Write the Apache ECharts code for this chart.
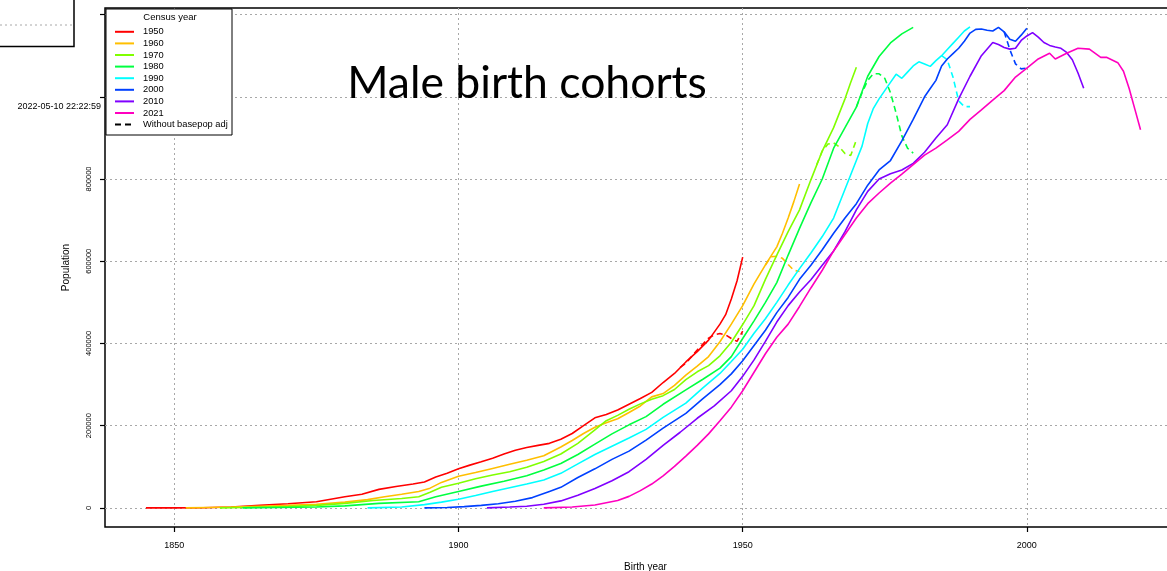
<!DOCTYPE html>
<html>
<head>
<meta charset="utf-8">
<title>Male birth cohorts</title>
<script src="https://cdn.jsdelivr.net/npm/echarts@6.0.0/dist/echarts.min.js"></script>
<style>
  html, body { margin: 0; padding: 0; background: #fff; }
  #chart { width: 1167px; height: 571px; }
</style>
</head>
<body>
<div id="chart"></div>
<script>
// census years shown in the legend
const censusYears = ['1950', '1960', '1970', '1980', '1990', '2000', '2010', '2021']

// [birth year, population] per census
const cohort1950 = [[1845,0],[1850,0],[1855,500],[1860,2000],[1865,6000],[1870,10000],[1875,15000],[1880,27000],[1883,33000],[1886,45000],[1889,52000],[1892,58000],[1894,63000],[1896,75000],[1898,84000],[1900,95000],[1902,104000],[1904,112000],[1906,121000],[1908,131000],[1910,140000],[1912,147000],[1914,152000],[1916,157000],[1918,167000],[1920,181000],[1922,200000],[1924,219000],[1926,227000],[1928,238000],[1930,252000],[1932,266000],[1934,281000],[1936,305000],[1938,327000],[1940,355000],[1942,380000],[1944,408000],[1946,447000],[1947,470000],[1948,508000],[1949,552000],[1950,610000]]
const cohort1960 = [[1852,0],[1856,1000],[1860,2000],[1865,4000],[1870,6000],[1875,9000],[1880,14000],[1884,20000],[1887,27000],[1890,33000],[1893,40000],[1895,48000],[1897,62000],[1900,77000],[1903,86000],[1906,96000],[1909,106000],[1912,116000],[1915,127000],[1918,148000],[1920,164000],[1922,181000],[1924,196000],[1926,207000],[1928,217000],[1930,232000],[1932,248000],[1934,270000],[1936,278000],[1938,298000],[1940,323000],[1942,345000],[1944,368000],[1946,404000],[1948,447000],[1950,492000],[1952,545000],[1954,591000],[1956,635000],[1957,668000],[1958,705000],[1959,745000],[1960,788000]]
const cohort1970 = [[1858,0],[1862,1000],[1866,2000],[1870,3000],[1875,6000],[1880,11000],[1885,18000],[1890,23000],[1893,27000],[1895,38000],[1897,50000],[1900,60000],[1903,71000],[1906,80000],[1909,88000],[1912,99000],[1915,113000],[1918,131000],[1921,157000],[1924,190000],[1926,212000],[1928,225000],[1930,240000],[1932,253000],[1934,264000],[1936,273000],[1938,288000],[1940,312000],[1942,331000],[1944,346000],[1946,370000],[1948,403000],[1950,446000],[1952,492000],[1954,556000],[1956,615000],[1958,672000],[1960,725000],[1962,798000],[1964,868000],[1966,925000],[1968,995000],[1969,1035000],[1970,1072000]]
const cohort1980 = [[1862,0],[1868,1000],[1875,2000],[1880,5000],[1886,11000],[1893,15000],[1896,27000],[1900,40000],[1904,53000],[1908,65000],[1912,78000],[1915,92000],[1918,108000],[1921,130000],[1924,155000],[1927,180000],[1930,202000],[1933,222000],[1936,252000],[1940,287000],[1943,313000],[1946,340000],[1948,368000],[1950,412000],[1952,455000],[1954,500000],[1956,548000],[1958,615000],[1960,680000],[1962,742000],[1964,800000],[1966,875000],[1968,925000],[1970,975000],[1972,1050000],[1974,1098000],[1976,1131000],[1978,1153000],[1980,1169000]]
const cohort1990 = [[1884,0],[1890,2000],[1894,8000],[1897,14000],[1900,21000],[1903,30000],[1906,40000],[1909,49000],[1912,58000],[1915,68000],[1918,84000],[1921,107000],[1924,130000],[1927,150000],[1930,170000],[1933,191000],[1936,220000],[1940,255000],[1943,292000],[1946,327000],[1948,356000],[1950,386000],[1952,425000],[1954,460000],[1956,500000],[1958,542000],[1960,582000],[1962,620000],[1964,660000],[1966,705000],[1968,775000],[1970,845000],[1971,880000],[1972,935000],[1973,972000],[1974,995000],[1975,1015000],[1976,1035000],[1977,1055000],[1978,1045000],[1979,1060000],[1980,1075000],[1981,1085000],[1982,1080000],[1983,1074000],[1984,1088000],[1985,1100000],[1986,1115000],[1987,1130000],[1988,1145000],[1989,1160000],[1990,1170000]]
const cohort2000 = [[1894,0],[1898,1000],[1901,3000],[1904,6000],[1907,10000],[1910,16000],[1913,25000],[1916,40000],[1918,50000],[1921,74000],[1924,95000],[1927,118000],[1930,138000],[1933,165000],[1936,194000],[1940,230000],[1943,266000],[1946,300000],[1948,326000],[1950,358000],[1952,395000],[1954,432000],[1956,475000],[1958,512000],[1960,556000],[1962,590000],[1964,628000],[1966,668000],[1968,705000],[1970,740000],[1972,785000],[1974,822000],[1976,845000],[1978,893000],[1980,945000],[1982,1000000],[1983,1020000],[1984,1040000],[1985,1075000],[1986,1092000],[1987,1105000],[1988,1118000],[1989,1135000],[1990,1155000],[1991,1164000],[1992,1165000],[1993,1162000],[1994,1160000],[1995,1169000],[1996,1158000],[1997,1140000],[1998,1135000],[1999,1150000],[2000,1167000]]
const cohort2010 = [[1905,0],[1909,2000],[1912,4000],[1915,9000],[1918,17000],[1921,31000],[1924,47000],[1927,66000],[1930,88000],[1933,118000],[1936,152000],[1939,184000],[1942,218000],[1945,248000],[1948,285000],[1950,320000],[1952,360000],[1954,405000],[1956,452000],[1958,492000],[1960,525000],[1962,555000],[1964,590000],[1966,625000],[1968,672000],[1970,725000],[1972,770000],[1974,800000],[1976,813000],[1978,822000],[1980,838000],[1982,865000],[1984,900000],[1986,932000],[1988,995000],[1990,1050000],[1992,1100000],[1994,1132000],[1995,1127000],[1996,1120000],[1997,1116000],[1998,1118000],[1999,1137000],[2000,1148000],[2001,1156000],[2002,1145000],[2003,1132000],[2004,1125000],[2005,1121000],[2006,1118000],[2007,1108000],[2008,1090000],[2009,1058000],[2010,1021000]]
const cohort2021 = [[1915,0],[1920,2000],[1924,7000],[1928,18000],[1930,28000],[1932,42000],[1934,58000],[1936,78000],[1938,101000],[1940,126000],[1942,152000],[1944,180000],[1946,212000],[1948,245000],[1950,285000],[1952,330000],[1954,375000],[1956,415000],[1958,447000],[1960,490000],[1962,535000],[1964,578000],[1966,625000],[1968,665000],[1970,705000],[1972,740000],[1974,766000],[1976,790000],[1978,812000],[1980,835000],[1982,858000],[1984,875000],[1986,895000],[1988,916000],[1990,945000],[1992,968000],[1994,992000],[1996,1015000],[1998,1048000],[2000,1070000],[2002,1092000],[2004,1106000],[2005,1092000],[2007,1106000],[2009,1118000],[2011,1116000],[2013,1096000],[2014,1096000],[2016,1083000],[2017,1062000],[2018,1020000],[2019,970000],[2020,920000]]

// same cohorts without base population adjustment (only where they part)
const noAdj1950 = [[1939,342000],[1940,352000],[1942,384000],[1944,413000],[1945,421000],[1946,424000],[1947,421000],[1948,412000],[1949,405000],[1950,430000]]
const noAdj1960 = [[1954,591000],[1955,611000],[1956,612000],[1957,607000],[1958,592000],[1959,578000],[1960,575000]]
const noAdj1970 = [[1963,834000],[1964,868000],[1965,885000],[1966,888000],[1967,878000],[1968,862000],[1969,857000],[1970,895000]]
const noAdj1980 = [[1970,975000],[1971,1010000],[1972,1040000],[1973,1056000],[1974,1056000],[1975,1045000],[1976,1010000],[1977,960000],[1978,905000],[1979,875000],[1980,863000]]
const noAdj1990 = [[1985,1100000],[1986,1090000],[1987,1048000],[1988,990000],[1989,976000],[1990,976000]]
const noAdj2000 = [[1996,1158000],[1997,1115000],[1998,1080000],[1999,1068000],[2000,1070000]]

// axis ticks
const xTicks = [1850, 1900, 1950, 2000]
const yTicks = [0, 200000, 400000, 600000, 800000, 1000000, 1200000]
const yLabels = [0, 200000, 400000, 600000, 800000]

const cohorts = [cohort1950, cohort1960, cohort1970, cohort1980, cohort1990, cohort2000, cohort2010, cohort2021]
const noAdj = [noAdj1950, noAdj1960, noAdj1970, noAdj1980, noAdj1990, noAdj2000, null, null]
const colors = ['#FF0000', '#FFBF00', '#80FF00', '#00FF40', '#00FFFF', '#0040FF', '#8000FF', '#FF00BF']
const font = 'Liberation Sans, Arial, sans-serif'

const series = []
censusYears.forEach((name, i) => {
  if (noAdj[i]) {
    series.push({
      type: 'line',
      name: name + ' unadjusted',
      data: noAdj[i],
      symbol: 'none',
      z: 2,
      lineStyle: { color: colors[i], width: 1.6, type: [6, 4] },
      itemStyle: { color: colors[i] }
    })
  }
  series.push({
    type: 'line',
    name: name,
    data: cohorts[i],
    symbol: 'none',
    z: 3,
    lineStyle: { color: colors[i], width: 1.6 },
    itemStyle: { color: colors[i] }
  })
})
// legend-only entry for the dashed style
series.push({
  type: 'line',
  name: 'Without basepop adj',
  data: [],
  symbol: 'none',
  lineStyle: { color: '#000', width: 1.6, type: [6, 4] },
  itemStyle: { color: '#000' }
})

const chart = echarts.init(document.getElementById('chart'), null, { renderer: 'canvas' })

chart.setOption({
  animation: false,
  backgroundColor: '#fff',
  grid: {
    show: true,
    left: 105,
    top: 8,
    width: 1081,
    height: 519,
    borderColor: '#000',
    borderWidth: 1.5,
    containLabel: false,
    outerBoundsMode: 'none'
  },
  xAxis: {
    type: 'value',
    min: 1837.8,
    max: 2028,
    name: 'Birth year',
    nameLocation: 'middle',
    nameGap: 35,
    nameTextStyle: { fontFamily: font, fontSize: 10, color: '#000' },
    axisLine: { show: false, onZero: false },
    axisTick: { show: true, length: 5, customValues: xTicks, lineStyle: { color: '#000', width: 1.2 } },
    axisLabel: { customValues: xTicks, margin: 14, fontFamily: font, fontSize: 9, color: '#000', formatter: v => String(v) },
    splitLine: { show: true, lineStyle: { color: '#a8a8a8', width: 1, type: [2, 3] } }
  },
  yAxis: {
    type: 'value',
    min: -46500,
    max: 1216000,
    name: 'Population',
    nameLocation: 'middle',
    nameGap: 34,
    nameRotate: 90,
    nameTextStyle: { fontFamily: font, fontSize: 10, color: '#000' },
    axisLine: { show: false, onZero: false },
    axisTick: { show: true, length: 5, customValues: yTicks, lineStyle: { color: '#000', width: 1.2 } },
    axisLabel: { customValues: yLabels, rotate: 90, margin: 12, fontFamily: font, fontSize: 7.5, color: '#000', formatter: v => String(v) },
    splitLine: { show: true, lineStyle: { color: '#a8a8a8', width: 1, type: [2, 3] } }
  },
  legend: {
    data: censusYears.concat(['Without basepop adj']),
    orient: 'vertical',
    left: 114,
    top: 26,
    padding: 0,
    itemGap: 0,
    itemWidth: 19,
    itemHeight: 8,
    selectedMode: false,
    z: 60,
    itemStyle: { opacity: 0 },
    textStyle: { fontFamily: font, fontSize: 9.3, lineHeight: 11.6, color: '#000', padding: [0, 0, 0, 4] }
  },
  graphic: [
    // legend frame and title
    { type: 'rect', z: 50, shape: { x: 106, y: 9, width: 126, height: 126 }, style: { fill: '#fff', stroke: '#000', lineWidth: 1 } },
    { type: 'text', z: 51, x: 170, y: 17, style: { text: 'Census year', font: '9.5px ' + font, fill: '#000', align: 'center', verticalAlign: 'middle' } },
    // chart title
    { type: 'text', z: 51, x: 527, y: 84, style: { text: 'Male birth cohorts', font: '44.5px Lato, "Open Sans", sans-serif', fill: '#000', align: 'center', verticalAlign: 'middle' } },
    // timestamp
    { type: 'text', z: 51, x: 101, y: 107, style: { text: '2022-05-10 22:22:59', font: '9px ' + font, fill: '#000', align: 'right', verticalAlign: 'middle' } },
    // clipped neighbouring panel in the corner
    { type: 'rect', z: 51, shape: { x: -2, y: -2, width: 76, height: 48.5 }, style: { fill: 'none', stroke: '#000', lineWidth: 1.5 } },
    { type: 'line', z: 51, shape: { x1: 0, y1: 25, x2: 72, y2: 25 }, style: { stroke: '#a8a8a8', lineWidth: 1, lineDash: [2, 3] } }
  ],
  series: series
})

window.addEventListener('resize', () => chart.resize())
</script>
</body>
</html>
